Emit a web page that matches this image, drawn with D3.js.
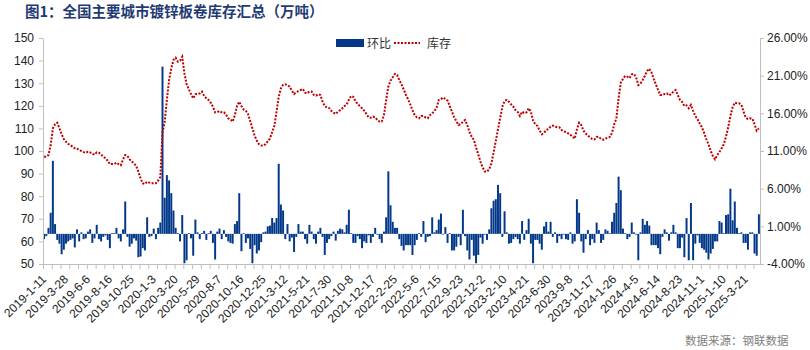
<!DOCTYPE html>
<html><head><meta charset="utf-8">
<script src="https://cdn.jsdelivr.net/npm/d3@7/dist/d3.min.js"></script>
<style>
html,body{margin:0;padding:0;background:#fff;}
svg{display:block;}
</style></head>
<body><svg id="c" width="810" height="350"></svg>
<script>
const title = "图1：全国主要城市镀锌板卷库存汇总（万吨）";
const seriesNames = ["环比", "库存"];
const source = "数据来源：钢联数据";
const tickLabels = ["2019-1-11","2019-3-28","2019-6-6","2019-8-16","2019-10-25","2020-1-3","2020-3-20","2020-5-29","2020-8-7","2020-10-16","2020-12-25","2021-3-12","2021-5-21","2021-7-30","2021-10-8","2021-12-17","2022-2-25","2022-5-6","2022-7-15","2022-9-23","2022-12-2","2023-2-10","2023-4-21","2023-6-30","2023-9-8","2023-11-17","2024-1-26","2024-4-5","2024-6-14","2024-8-23","2024-11-1","2025-1-10","2025-3-21"];
const leftTicks = [50,60,70,80,90,100,110,120,130,140,150];
const rightTicks = [-4,1,6,11,16,21,26];
// 库存 (万吨), weekly
const inventory = [97.5,97.5,98.2,102.7,110.0,111.9,112.5,110.0,107.4,105.3,104.1,103.1,102.6,101.9,101.2,101.0,100.4,100.0,99.5,99.2,
99.7,99.4,98.7,98.4,99.4,99.2,98.5,97.5,96.8,95.7,94.2,94.2,94.2,94.8,94.2,93.7,96.3,98.2,97.8,96.3,
95.3,94.5,93.4,90.9,87.9,85.7,85.4,86.4,86.0,85.7,85.7,85.7,86.9,88.5,108.0,113.0,122.6,131.4,136.6,140.3,
141.3,139.5,140.0,141.7,134.4,129.6,127.3,125.2,123.3,125.1,125.2,125.5,126.3,124.3,123.3,122.6,121.4,119.6,117.1,117.2,
117.7,117.1,117.1,116.1,114.4,114.0,113.0,115.8,120.1,121.8,119.9,118.4,117.8,116.4,113.3,110.0,106.8,104.6,103.0,102.4,
102.4,103.0,104.3,105.5,108.3,111.1,117.4,124.0,127.7,129.3,129.5,129.1,128.5,126.7,125.2,126.0,126.5,127.0,127.4,125.8,
125.5,126.3,126.3,124.8,124.5,125.1,124.8,121.8,119.9,119.2,119.0,117.8,117.0,116.4,117.4,118.1,118.9,119.9,120.6,122.6,
124.3,124.0,122.1,120.8,119.9,118.9,117.8,116.4,114.9,114.7,115.2,114.9,113.7,113.0,113.0,115.9,122.6,128.5,131.1,132.6,
134.1,133.6,131.4,129.5,127.3,124.9,122.9,120.6,118.1,115.9,114.9,114.5,115.5,115.5,114.8,114.5,115.9,116.7,117.6,119.2,
122.6,123.0,123.7,123.0,122.3,119.9,117.4,114.9,113.3,111.5,111.9,113.0,113.7,111.5,108.4,106.3,104.9,101.6,98.5,95.3,
92.8,90.9,90.9,91.9,94.5,99.3,104.4,109.6,114.5,119.6,122.1,122.6,121.8,120.6,119.6,118.1,117.3,115.5,117.4,116.7,
117.1,118.9,117.4,113.4,111.8,111.1,109.0,107.4,108.0,109.3,109.7,110.8,111.2,110.8,110.5,110.5,109.3,108.7,108.4,107.8,
107.2,106.3,105.5,109.6,112.5,111.5,109.0,107.7,106.9,106.0,105.3,105.1,106.2,106.3,105.3,105.0,105.5,105.9,106.2,108.0,
111.8,114.4,123.3,130.2,131.9,133.2,132.9,132.3,133.9,134.1,132.6,129.2,129.9,131.4,133.3,135.4,136.4,134.8,132.0,129.5,
127.0,124.8,124.8,125.2,125.5,124.6,125.2,126.3,127.0,124.8,122.6,121.7,119.9,120.2,118.9,120.4,117.8,115.5,114.0,112.2,
110.5,108.1,105.3,103.0,100.0,97.8,96.3,98.2,99.5,101.2,103.0,106.3,110.5,115.5,119.3,121.4,121.1,121.1,120.4,117.4,
114.7,114.2,114.5,114.3,111.9,109.0,110.0];
// 环比 (%)
const change = [-0.7,-0.3,0.8,2.8,9.7,1.3,-0.8,-1.3,-2.7,-2.1,-1.3,-1.0,-0.8,-0.6,-1.8,0.6,-1.0,0.2,-0.7,-0.6,
0.3,0.6,-1.2,-0.6,1.2,-0.7,-1.0,-0.4,-0.2,-0.8,-1.9,0.1,0.1,0.8,-0.6,-1.0,0.6,4.3,-0.4,-1.7,
-1.3,-0.6,-0.9,-3.1,-3.0,-1.9,-2.2,2.2,-0.4,-0.3,0.7,-0.7,0.8,1.5,22.2,4.8,7.8,7.1,5.4,3.1,
0.8,0.1,-1.0,2.5,-3.9,-3.5,0.1,-0.6,-2.9,1.9,0.2,-0.7,0.1,0.4,-0.8,0.1,0.4,-1.2,-3.4,0.3,
0.7,-0.7,0.5,-0.4,-1.0,-1.2,-1.3,1.3,1.7,5.4,-2.3,0.1,-1.2,-0.6,-2.0,-3.9,-1.5,-2.6,-2.2,-1.1,
0.2,0.3,1.0,1.1,2.1,1.5,2.1,9.3,3.9,3.1,-0.7,1.3,-1.0,-0.5,-2.4,-0.4,1.3,0.3,0.3,-0.7,
-1.3,1.2,0.3,-0.7,-1.3,0.3,0.8,-0.4,-2.8,-1.2,-0.7,-0.3,0.3,-0.9,0.4,0.7,0.6,0.2,1.2,3.2,
0.1,-1.2,-1.2,-0.3,-0.7,-1.9,-1.0,-1.2,-0.2,-1.2,-0.4,0.8,-0.1,-0.7,-1.2,0.3,2.2,8.3,3.8,1.6,
0.8,0.8,-0.7,-1.6,-2.2,-1.5,-1.5,-1.5,-2.8,-1.5,-0.8,0.1,-0.4,1.7,-1.1,-0.4,-0.3,2.2,0.2,0.5,
1.9,2.7,-0.1,0.9,-1.2,0.1,-2.2,-2.2,-1.7,-0.4,-1.5,3.2,-0.3,-2.2,-3.4,-0.8,-2.9,-3.9,-2.8,-0.5,
-1.3,-0.1,-0.8,0.6,3.4,4.4,4.6,6.5,5.4,-0.4,3.0,0.2,-1.3,-1.2,-0.7,-0.4,-0.7,-1.3,1.7,-0.8,
0.5,2.0,-1.3,-3.9,-0.8,-0.8,-1.3,-2.1,1.0,1.6,0.3,1.6,-0.4,0.2,-1.2,-0.3,-0.7,-0.1,-0.7,-0.8,
0.2,-1.3,-1.0,4.6,2.8,-1.0,-2.5,-0.7,0.5,-1.5,-0.7,-1.2,1.5,0.5,-1.2,-0.8,0.6,0.4,0.1,1.6,
2.8,4.1,7.6,5.8,0.7,0.1,-0.7,-0.4,1.5,0.2,-0.1,-3.5,0.2,2.0,1.2,1.7,1.1,-1.5,-1.5,-1.5,
-1.9,-2.7,-0.4,0.6,0.2,-0.9,0.2,1.2,0.2,-1.9,-1.9,-0.5,-3.1,2.1,-3.5,4.1,-3.5,-1.3,-0.2,-1.2,
-1.9,-2.1,-2.5,-3.4,-2.6,-2.0,-1.0,-1.0,1.7,1.5,0.1,2.5,2.6,6.0,1.8,4.3,0.8,0.1,0.2,-1.2,
-1.2,-2.1,0.2,0.2,-2.6,-2.9,2.6];

const W = 810, H = 350;
const M = {left: 43, right: 760, top: 38, bottom: 264};
const BAR = "#033889", RED = "#c00000", AXIS = "#bfbfbf", TXT = "#222";
const svg = d3.select("#c");
const N = inventory.length;
const idx = d3.range(N);

const x = d3.scaleBand().domain(idx).range([M.left, M.right]).paddingInner(0.1).paddingOuter(0.05);
const xLin = d3.scaleLinear().domain([0, N]).range([M.left, M.right]);
const yL = d3.scaleLinear().domain([50, 150]).range([M.bottom, M.top]);
const yR = d3.scaleLinear().domain([-4, 26]).range([M.bottom, M.top]);
const cx = i => x(i) + x.bandwidth() / 2;

// bars
svg.append("g").selectAll("rect").data(idx).join("rect")
  .attr("x", i => x(i)).attr("width", x.bandwidth())
  .attr("y", i => Math.min(yR(change[i]), yR(0)))
  .attr("height", i => Math.abs(yR(change[i]) - yR(0)))
  .attr("fill", BAR);

// line
svg.append("path").datum(idx)
  .attr("d", d3.line().x(cx).y(i => yL(inventory[i])).curve(d3.curveLinear))
  .attr("fill", "none").attr("stroke", RED).attr("stroke-width", 2)
  .attr("stroke-dasharray", "2,1.5");

// axes
const font = "'Liberation Sans', Arial, sans-serif";
const gL = svg.append("g").attr("transform", `translate(${M.left},0)`)
  .call(d3.axisLeft(yL).tickValues(leftTicks).tickSize(4).tickSizeOuter(0).tickPadding(5));
const gR = svg.append("g").attr("transform", `translate(${M.right},0)`)
  .call(d3.axisRight(yR).tickValues(rightTicks).tickSize(4).tickSizeOuter(0).tickPadding(3)
    .tickFormat(d => d.toFixed(2) + "%"));
const gB = svg.append("g").attr("transform", `translate(0,${M.bottom})`)
  .call(d3.axisBottom(xLin).tickValues(d3.range(0, N + 1, 4)).tickSize(5).tickSizeOuter(0).tickFormat(""));
[gL, gR, gB].forEach(g => {
  g.selectAll("path.domain").attr("stroke", AXIS).attr("stroke-width", 1);
  g.selectAll(".tick line").attr("stroke", AXIS);
  g.selectAll("text").attr("font-family", font).attr("font-size", 12).attr("fill", TXT);
});

// x labels
svg.append("g").selectAll("text").data(tickLabels).join("text")
  .attr("transform", (d, k) => `translate(${cx(k * 10) + 3},${M.bottom + 16}) rotate(-45)`)
  .attr("text-anchor", "end")
  .attr("font-family", font).attr("font-size", 12).attr("fill", TXT)
  .text(d => d);

// title
svg.append("text").attr("x", 25).attr("y", 17)
  .attr("font-family", "'Noto Sans CJK SC', sans-serif").attr("font-weight", "bold")
  .attr("font-size", 14.5).attr("fill", "#1f3b73").text(title);

// legend
const lg = svg.append("g").attr("font-family", "'Noto Sans CJK SC', sans-serif").attr("font-size", 12).attr("fill", "#333");
lg.append("rect").attr("x", 336).attr("y", 39).attr("width", 28).attr("height", 8).attr("fill", BAR);
lg.append("text").attr("x", 367).attr("y", 47.5).text(seriesNames[0]);
lg.append("line").attr("x1", 394).attr("x2", 420).attr("y1", 43).attr("y2", 43)
  .attr("stroke", RED).attr("stroke-width", 2).attr("stroke-dasharray", "2,1.5");
lg.append("text").attr("x", 427).attr("y", 47.5).text(seriesNames[1]);

// source
svg.append("text").attr("x", 685).attr("y", 345)
  .attr("font-family", "'Noto Sans CJK SC', sans-serif").attr("font-size", 11.5)
  .attr("fill", "#808080").text(source);
</script></body></html>
